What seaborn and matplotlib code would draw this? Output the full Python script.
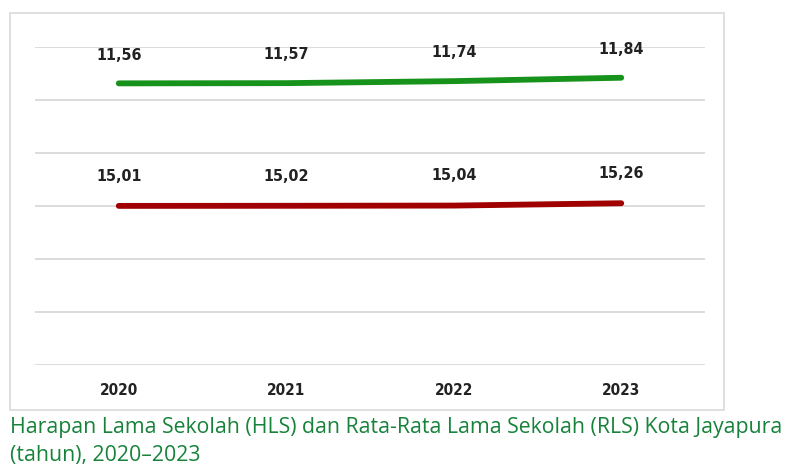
import matplotlib
matplotlib.use("Agg")
import matplotlib.pyplot as plt
import seaborn as sns
import pandas as pd
from matplotlib.patches import Rectangle

years = [2020, 2021, 2022, 2023]
hls = [15.01, 15.02, 15.04, 15.26]   # Harapan Lama Sekolah (red, bottom series)
rls = [11.56, 11.57, 11.74, 11.84]   # Rata-Rata Lama Sekolah (green, stacked on top)
hls_labels = ["15,01", "15,02", "15,04", "15,26"]
rls_labels = ["11,56", "11,57", "11,74", "11,84"]
caption = ("Harapan Lama Sekolah (HLS) dan Rata-Rata Lama Sekolah (RLS) Kota Jayapura\n"
           "(tahun), 2020\u20132023")

sns.set_theme(style="white")
plt.rcParams['font.family'] = ['DejaVu Sans']
plt.rcParams['font.stretch'] = 'condensed'

stacked = [h + r for h, r in zip(hls, rls)]
df = pd.DataFrame({
    "Tahun": years * 2,
    "Nilai": hls + stacked,
    "Seri": ["HLS"] * 4 + ["RLS"] * 4,
})

fig = plt.figure(figsize=(7.87, 4.70), dpi=100)
W, H = 787, 470
ax = fig.add_axes([35 / W, 1 - 365 / H, (705 - 35) / W, (365 - 47) / H])

# outer frame
fig.patches.append(Rectangle((10 / W, 1 - 410 / H), (724 - 10) / W, (410 - 13) / H,
                             transform=fig.transFigure, fill=False,
                             edgecolor="#d9d9d9", linewidth=1.2, zorder=0))

sns.lineplot(data=df, x="Tahun", y="Nilai", hue="Seri",
             palette={"HLS": "#a00000", "RLS": "#17931b"},
             linewidth=4.2, ax=ax, legend=False, solid_capstyle="round")

ax.set_xlim(2019.5, 2023.5)
ax.set_ylim(0, 30)
ax.set_yticks(range(0, 31, 5))
ax.set_yticklabels([])
ax.set_xticks(years)
ax.set_xticklabels([str(y) for y in years], fontsize=11, color="#222222",
                   fontweight="bold", fontstretch="condensed")
ax.tick_params(axis="x", length=0, pad=13)
ax.tick_params(axis="y", length=0)
ax.grid(axis="y", color="#d9d9d9", linewidth=1.3)
ax.set_axisbelow(True)
for s in ax.spines.values():
    s.set_visible(False)
ax.set_xlabel("")
ax.set_ylabel("")

for x, yv, lab in zip(years, stacked, rls_labels):
    ax.annotate(lab, (x, yv), xytext=(0, 15), textcoords="offset points",
                ha="center", va="bottom", fontsize=11.5, color="#222222",
                fontweight="bold", fontstretch="condensed")
for x, yv, lab in zip(years, hls, hls_labels):
    ax.annotate(lab, (x, yv), xytext=(0, 16), textcoords="offset points",
                ha="center", va="bottom", fontsize=11.5, color="#222222",
                fontweight="bold", fontstretch="condensed")

fig.text(10 / W, 1 - 417 / H, caption, ha="left", va="top", fontsize=15.3,
         color="#16823a", family=["Open Sans", "DejaVu Sans"],
         fontstretch="normal", linespacing=1.45)

fig.savefig("out.png", dpi=100)
